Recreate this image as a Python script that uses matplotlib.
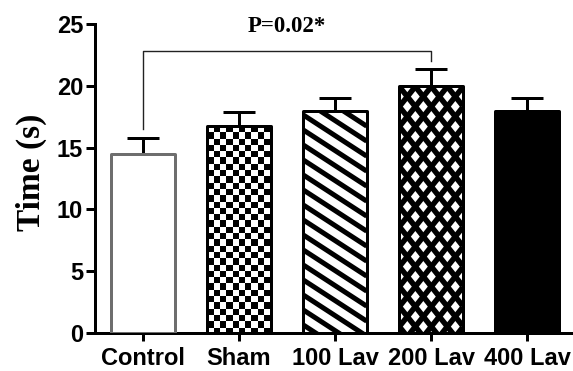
import numpy as np
import matplotlib
matplotlib.use("Agg")
import matplotlib.pyplot as plt
from matplotlib.collections import LineCollection, PatchCollection
from matplotlib.patches import Rectangle
from matplotlib.transforms import IdentityTransform

# ------------------------------------------------------------------
# data
# ------------------------------------------------------------------
groups = ["Control", "Sham", "100 Lav", "200 Lav", "400 Lav"]
means = [14.5, 16.75, 17.95, 20.0, 17.95]
sems = [1.3, 1.1, 1.05, 1.35, 1.05]

p_label = "P=0.02*"
bracket_pair = (0, 3)          # Control vs 200 Lav
bracket_top = 22.85
bracket_legs = (16.5, 22.0)

# styles (kept apart from the data)
FILLS = ["white", "checker", "stripes", "cross", "black"]
EDGES = ["#6e6e6e", "black", "black", "black", "black"]
SANS = ["Liberation Sans", "DejaVu Sans"]
SERIF = ["Liberation Serif", "DejaVu Serif"]
PX = 72.0 / 100.0              # one pixel in points at dpi 100


# ------------------------------------------------------------------
# fill patterns, drawn in pixel space and clipped to the bar
# ------------------------------------------------------------------
def _lines(ax, bar, slope, step, lw):
    bb = bar.get_window_extent()
    w = bb.x1 - bb.x0
    span = abs(slope) * w
    segs = [[(bb.x0, c), (bb.x1, c + slope * w)]
            for c in np.arange(bb.y1 + span + step, bb.y0 - span - step, -step)]
    lc = LineCollection(segs, colors="black", linewidths=lw,
                        transform=IdentityTransform(), zorder=3,
                        capstyle="butt")
    ax.add_collection(lc, autolim=False)
    lc.set_clip_path(bar)      # after add_collection, which resets it


def _checker(ax, bar, cell):
    bb = bar.get_window_extent()
    nx = int(np.ceil((bb.x1 - bb.x0) / cell)) + 1
    ny = int(np.ceil((bb.y1 - bb.y0) / cell)) + 1
    sq = [Rectangle((bb.x0 + i * cell, bb.y1 - (j + 1) * cell), cell, cell)
          for i in range(nx) for j in range(ny) if (i + j) % 2 == 1]
    pc = PatchCollection(sq, facecolor="black", edgecolor="none",
                         transform=IdentityTransform(), zorder=3)
    ax.add_collection(pc, autolim=False)
    pc.set_clip_path(bar)


def main():
    fig = plt.figure(figsize=(5.73, 3.71), dpi=100)
    ax = fig.add_axes([95 / 573, 38 / 371, 480 / 573, 309 / 371])
    x = np.arange(len(groups))
    ax.set_xlim(-0.5, 4.5)
    ax.set_ylim(0, 25)

    faces = ["black" if f == "black" else "white" for f in FILLS]
    base = ax.bar(x, means, width=0.66, color=faces, edgecolor="none",
                  zorder=2)
    for bar, kind in zip(base, FILLS):
        if kind == "checker":
            _checker(ax, bar, 6.3)
        elif kind == "stripes":
            _lines(ax, bar, -0.65, 15.0, 5 * PX)
        elif kind == "cross":
            _lines(ax, bar, 1.25, 20.0, 5.5 * PX)
            _lines(ax, bar, -1.25, 20.0, 5.5 * PX)

    eb = ax.errorbar(x, means, yerr=[np.zeros(len(sems)), sems], fmt="none",
                     ecolor="black", elinewidth=3 * PX, capsize=11.5,
                     capthick=3 * PX, zorder=4)
    eb[1][0].set_visible(False)

    ax.bar(x, means, width=0.66, facecolor="none", edgecolor=EDGES,
           linewidth=3 * PX, joinstyle="round", zorder=5)

    # significance bracket
    a, b = bracket_pair
    ax.plot([x[a], x[a], x[b], x[b]],
            [bracket_legs[0], bracket_top, bracket_top, bracket_legs[1]],
            color="#222222", lw=1.0, zorder=4)
    ax.text((x[a] + x[b]) / 2, 24.35, p_label, ha="center", va="baseline",
            fontsize=16.5, fontweight="bold", family=SERIF, clip_on=False)

    for side in ("top", "right"):
        ax.spines[side].set_visible(False)
    for side in ("left", "bottom"):
        ax.spines[side].set_linewidth(3 * PX)
    ax.set_yticks([0, 5, 10, 15, 20, 25])
    ax.set_xticks(x, groups)
    ax.tick_params(axis="y", length=9 * PX, width=3 * PX, pad=2)
    ax.tick_params(axis="x", length=8 * PX, width=3 * PX, pad=4)
    for lab in ax.get_xticklabels() + ax.get_yticklabels():
        lab.set_fontsize(17)
        lab.set_fontweight("bold")
        lab.set_family(SANS)

    ax.set_ylabel("Time (s)", fontsize=24, fontweight="bold", family=SERIF)
    ax.yaxis.set_label_coords(-0.1, 0.52)

    fig.savefig("out.png", dpi=100)


if __name__ == "__main__":
    main()
